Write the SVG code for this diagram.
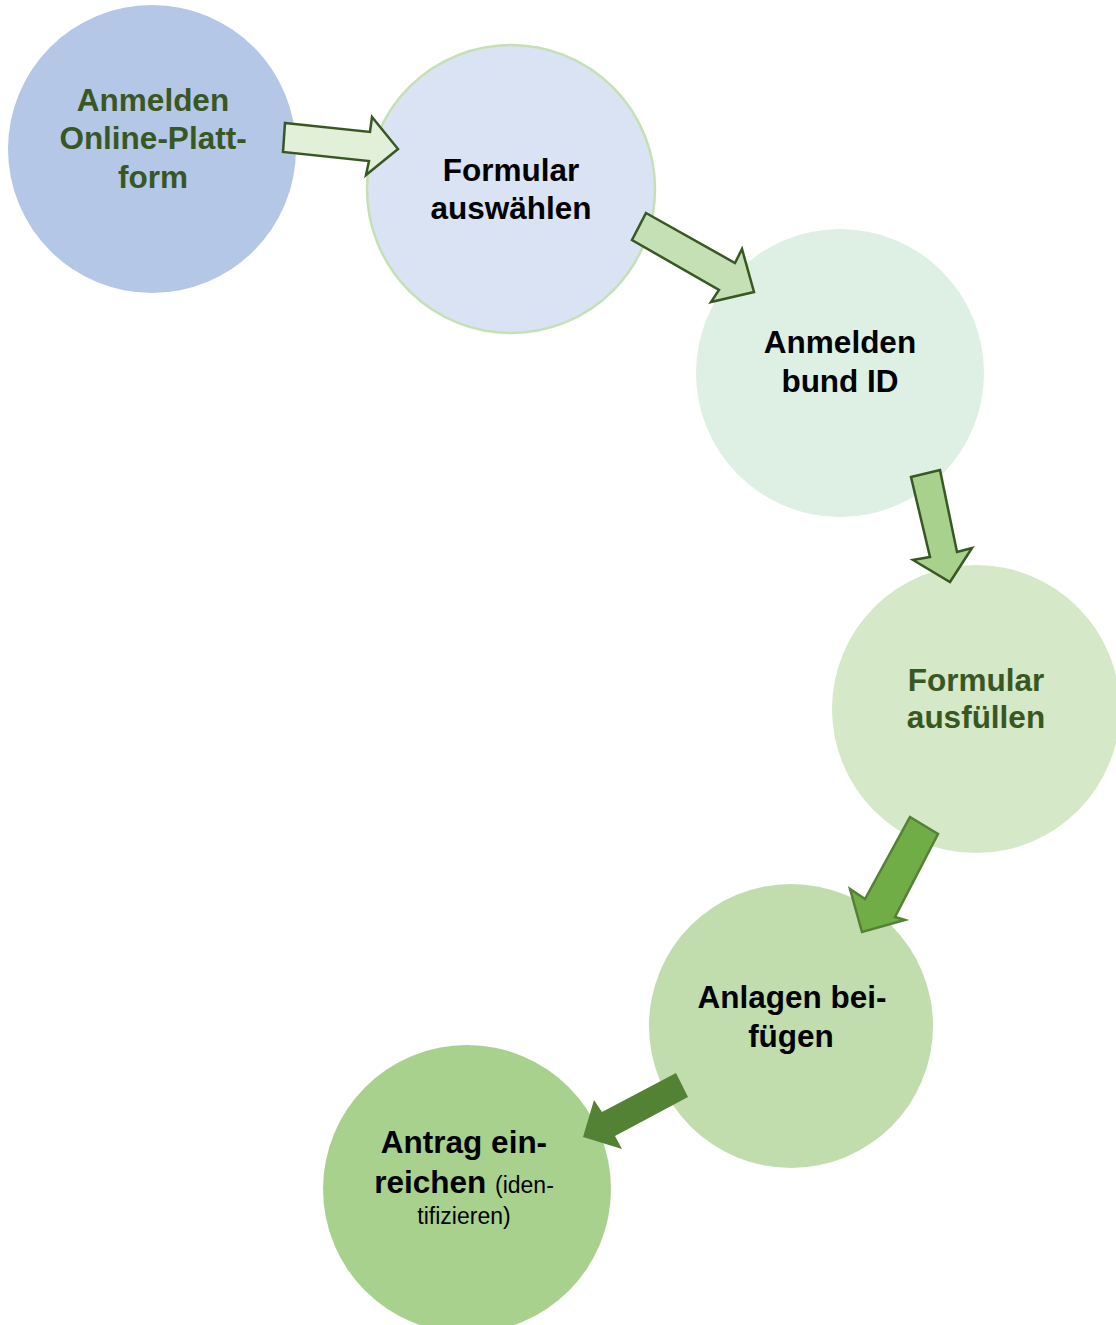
<svg xmlns="http://www.w3.org/2000/svg" width="1116" height="1325" viewBox="0 0 1116 1325">
<style>
.t{font-family:"Liberation Sans",Arial,sans-serif;font-weight:bold;font-size:31.5px;text-anchor:middle;fill:#000}
.g{fill:#385723}
.s{font-weight:normal;font-size:23px}
.a{stroke:#385723;stroke-width:2.5;stroke-linejoin:miter}
</style>
<rect width="1116" height="1325" fill="#fff"/>
<g id="n1"><circle cx="152" cy="149" r="144" fill="#b4c7e7"/>
<text class="t g" x="153" y="111">Anmelden</text><text class="t g" x="153" y="149">Online-Platt-</text><text class="t g" x="153" y="188">form</text></g>
<g id="n2"><circle cx="511" cy="189" r="144" fill="#dae3f3" stroke="#c5e0b4" stroke-width="2.5"/>
<text class="t" x="511" y="181">Formular</text><text class="t" x="511" y="219">auswählen</text></g>
<g id="n3"><circle cx="840" cy="373" r="144" fill="#ddf0e3"/>
<text class="t" x="840" y="353">Anmelden</text><text class="t" x="840" y="392">bund ID</text></g>
<g id="n4"><circle cx="976" cy="709" r="144" fill="#d5e8c7"/>
<text class="t g" x="976" y="691">Formular</text><text class="t g" x="976" y="728">ausfüllen</text></g>
<g id="n5"><circle cx="791" cy="1026" r="142" fill="#c1ddae"/>
<text class="t" x="792" y="1008">Anlagen bei-</text><text class="t" x="791" y="1047">fügen</text></g>
<g id="n6"><circle cx="467" cy="1189" r="144" fill="#a9d18e"/>
<text class="t" x="464" y="1153">Antrag ein-</text><text class="t" x="464" y="1193">reichen <tspan class="s">(iden-</tspan></text><text class="t s" x="464" y="1224">tifizieren)</text></g>
<g id="connectors">
<polygon class="a" fill="#e2efd9" points="285,123 370,132 372,117 398,149 366,175 369,161 283,152"/>
<polygon class="a" fill="#c5e0b4" points="646,213 735,263 742,249 754,292 711,302 719,290 632,240"/>
<polygon class="a" fill="#a9d18e" points="911,477 940,470 957,552 972,548 950,582 913,560 930,557"/>
<polygon fill="#70ad47" stroke="#538135" stroke-width="2.5" points="910,817 938,834 895,917 905,920 862,932 850,889 865,899"/>
<polygon fill="#548235" points="676,1073 688,1097 615,1136 622,1149 583,1137 594,1100 602,1112"/>
</g>
</svg>
